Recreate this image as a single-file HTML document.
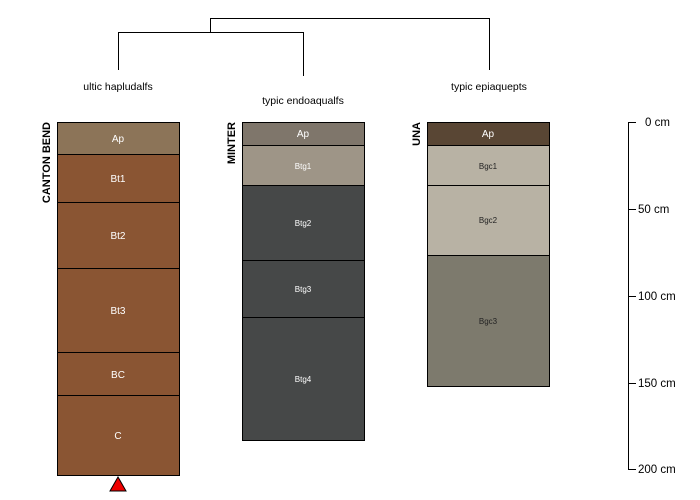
<!DOCTYPE html>
<html><head><style>body{margin:0;background:#fff}svg{display:block}</style></head><body>
<svg width="700" height="500" xmlns="http://www.w3.org/2000/svg" font-family="Liberation Sans, sans-serif">
<g stroke="#000" fill="none" stroke-width="1">
<path d="M210.5 32V18.5H489.5V70"/>
<path d="M118.5 70V32.5H303.5V76"/>
</g>
<g font-size="10.5" fill="#000" text-anchor="middle">
<text x="118" y="90">ultic hapludalfs</text>
<text x="303" y="104">typic endoaqualfs</text>
<text x="489" y="90">typic epiaquepts</text>
</g>
<g stroke="#000" stroke-width="1">
<rect x="57.5" y="122.5" width="122" height="32" fill="#8c7458"/>
<rect x="57.5" y="154.5" width="122" height="48" fill="#8a5533"/>
<rect x="57.5" y="202.5" width="122" height="66" fill="#8a5533"/>
<rect x="57.5" y="268.5" width="122" height="84" fill="#8a5533"/>
<rect x="57.5" y="352.5" width="122" height="43" fill="#8a5533"/>
<rect x="57.5" y="395.5" width="122" height="80" fill="#8a5533"/>
<rect x="242.5" y="122.5" width="122" height="23" fill="#7f766b"/>
<rect x="242.5" y="145.5" width="122" height="40" fill="#9e9587"/>
<rect x="242.5" y="185.5" width="122" height="75" fill="#464848"/>
<rect x="242.5" y="260.5" width="122" height="57" fill="#464848"/>
<rect x="242.5" y="317.5" width="122" height="123" fill="#464848"/>
<rect x="427.5" y="122.5" width="122" height="23" fill="#594634"/>
<rect x="427.5" y="145.5" width="122" height="40" fill="#b8b2a4"/>
<rect x="427.5" y="185.5" width="122" height="70" fill="#b8b2a4"/>
<rect x="427.5" y="255.5" width="122" height="131" fill="#7d7a6d"/>
</g>
<polygon points="118,477 110,491 126,491" fill="#e00" stroke="#000"/>
<g font-size="10" fill="#fff" text-anchor="middle">
<text x="118" y="142">Ap</text>
<text x="118" y="182">Bt1</text>
<text x="118" y="239">Bt2</text>
<text x="118" y="314">Bt3</text>
<text x="118" y="378">BC</text>
<text x="118" y="439">C</text>
<text x="303" y="137">Ap</text>
<text x="303" y="169" font-size="8">Btg1</text>
<text x="303" y="226" font-size="8">Btg2</text>
<text x="303" y="292" font-size="8">Btg3</text>
<text x="303" y="382" font-size="8">Btg4</text>
<text x="488" y="137">Ap</text>
<g fill="#222" font-size="8">
<text x="488" y="169">Bgc1</text>
<text x="488" y="223">Bgc2</text>
<text x="488" y="324">Bgc3</text>
</g>
</g>
<g font-size="11" font-weight="bold" fill="#000" text-anchor="end">
<text transform="translate(50,122) rotate(-90)">CANTON BEND</text>
<text transform="translate(235,122) rotate(-90)">MINTER</text>
<text transform="translate(420,122) rotate(-90)">UNA</text>
</g>
<g stroke="#000">
<path d="M628.5 122V469M628 122.5H636M628 209.5H636M628 296.5H636M628 383.5H636M628 469.5H636"/>
</g>
<g font-size="11.5" fill="#000">
<text x="645" y="126">0 cm</text>
<text x="638" y="213">50 cm</text>
<text x="638" y="300">100 cm</text>
<text x="638" y="387">150 cm</text>
<text x="638" y="473">200 cm</text>
</g>
</svg>
</body></html>
